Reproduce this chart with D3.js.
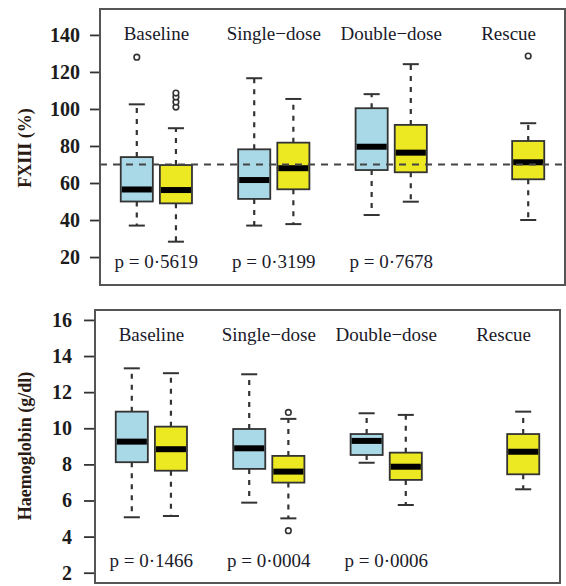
<!DOCTYPE html>
<html>
<head>
<meta charset="utf-8">
<script src="https://cdn.jsdelivr.net/npm/d3@7"></script>
<style>
  body { margin: 0; background: #fff; }
  text { font-family: "Liberation Serif", "DejaVu Serif", serif; }
</style>
</head>
<body>
<div id="chart"></div>
<script>
// group names and p-values
var groups = ["Baseline", "Single\u2212dose", "Double\u2212dose", "Rescue"];
var fxPValues = ["p = 0\u00b75619", "p = 0\u00b73199", "p = 0\u00b77678"];
var hbPValues = ["p = 0\u00b71466", "p = 0\u00b70004", "p = 0\u00b70006"];

// box stats per group: [lower whisker, q1, median, q3, upper whisker]
var fxBlue = [[37, 50, 56.5, 74, 102.5], [37, 51.4, 61.6, 78.2, 116.6], [42.7, 67, 79.6, 100.4, 108], null];
var fxYellow = [[28.3, 49, 56.2, 69.7, 89.6], [37.8, 56.6, 68, 81.8, 105.4], [49.9, 65.8, 76.4, 91.4, 124.2], [40, 62, 71.2, 82.7, 92.3]];
var fxBlueOut = [[128], [], [], []];
var fxYellowOut = [[101, 103.8, 106.5, 108.6], [], [], [128.6]];
var fxTicks = [20, 40, 60, 80, 100, 120, 140];
var fxRef = 70;

var hbBlue = [[5.07, 8.12, 9.26, 10.92, 13.32], [5.88, 7.75, 8.89, 9.96, 12.99], [8.09, 8.52, 9.3, 9.68, 10.83], null];
var hbYellow = [[5.14, 7.65, 8.84, 10.09, 13.05], [5.01, 6.99, 7.6, 8.47, 10.52], [5.75, 7.14, 7.87, 8.65, 10.74], [6.62, 7.45, 8.7, 9.68, 10.92]];
var hbBlueOut = [[], [], [], []];
var hbYellowOut = [[], [10.88, 4.33], [], []];
var hbTicks = [2, 4, 6, 8, 10, 12, 14, 16];

var W = 566, H = 586;
var blueFill = "#a9d9e6", yellowFill = "#ece822";

var svg = d3.select("#chart").append("svg")
  .attr("width", W).attr("height", H);

function panel(opt) {
  var x = d3.scaleLinear().domain([0.06, 11.94]).range([opt.left, opt.right]);
  var y = d3.scaleLinear().domain(opt.yDomain).range([opt.bottom, opt.top]);
  var g = svg.append("g");
  var bw = 0.82 * (x(1) - x(0));

  // y axis
  var ax = g.append("g")
    .attr("transform", "translate(" + opt.left + ",0)")
    .call(d3.axisLeft(y).tickValues(opt.ticks).tickSize(opt.tickLen).tickPadding(opt.tickPad));
  ax.select(".domain").remove();
  ax.selectAll("line").attr("stroke", "#333").attr("stroke-width", 1.8);
  ax.selectAll("text")
    .attr("font-size", "20px").attr("font-weight", "bold")
    .attr("fill", "#1c1c1c")
    .style("font-family", "'Liberation Serif', serif");

  // y title
  g.append("text")
    .attr("transform", "translate(" + opt.titleX + "," + opt.titleY + ") rotate(-90)")
    .attr("text-anchor", "middle")
    .attr("font-size", "18px").attr("font-weight", "bold")
    .attr("fill", "#2a1a14")
    .text(opt.title);

  // boxes
  function drawBox(s, pos, fill, outs) {
    var cx = x(pos);
    if (s) {
      var bg = g.append("g");
      // whiskers, dashed outward from the box
      [[s[1], s[0]], [s[3], s[4]]].forEach(function (w) {
        bg.append("line")
          .attr("x1", cx).attr("x2", cx)
          .attr("y1", y(w[0])).attr("y2", y(w[1]))
          .attr("stroke", "#333").attr("stroke-width", 2.2)
          .attr("stroke-dasharray", "5,6");
      });
      [s[0], s[4]].forEach(function (v) {
        bg.append("line")
          .attr("x1", cx - bw / 4).attr("x2", cx + bw / 4)
          .attr("y1", y(v)).attr("y2", y(v))
          .attr("stroke", "#333").attr("stroke-width", 2);
      });
      bg.append("rect")
        .attr("x", cx - bw / 2).attr("width", bw)
        .attr("y", y(s[3])).attr("height", y(s[1]) - y(s[3]))
        .attr("fill", fill).attr("stroke", "#333").attr("stroke-width", 1.8);
      bg.append("line")
        .attr("x1", cx - bw / 2 + 1).attr("x2", cx + bw / 2 - 1)
        .attr("y1", y(s[2])).attr("y2", y(s[2]))
        .attr("stroke", "#000").attr("stroke-width", 6);
    }
    outs.forEach(function (v) {
      g.append("circle")
        .attr("cx", cx).attr("cy", y(v)).attr("r", 2.8)
        .attr("fill", "#fff").attr("stroke", "#333").attr("stroke-width", 1.6);
    });
  }

  groups.forEach(function (name, i) {
    drawBox(opt.blue[i], 3 * i + 1, blueFill, opt.blueOut[i]);
    drawBox(opt.yellow[i], 3 * i + 2, yellowFill, opt.yellowOut[i]);
    g.append("text")
      .attr("x", x(3 * i + 1.5)).attr("y", opt.labelY)
      .attr("text-anchor", "middle").attr("font-size", "19px")
      .attr("fill", "#1a1a2a")
      .text(name);
  });

  // reference line, drawn over the boxes
  if (opt.ref != null) {
    g.append("line")
      .attr("x1", opt.left).attr("x2", opt.right)
      .attr("y1", y(opt.ref)).attr("y2", y(opt.ref))
      .attr("stroke", "#444").attr("stroke-width", 2)
      .attr("stroke-dasharray", "7,6");
  }

  opt.pValues.forEach(function (p, i) {
    g.append("text")
      .attr("x", x(3 * i + 1.5)).attr("y", opt.pY)
      .attr("text-anchor", "middle").attr("font-size", "19px")
      .attr("fill", "#1a1a2a")
      .text(p);
  });

  // frame
  g.append("rect")
    .attr("x", opt.left).attr("y", opt.top)
    .attr("width", opt.right - opt.left).attr("height", opt.bottom - opt.top)
    .attr("fill", "none").attr("stroke", "#555").attr("stroke-width", 2);
}

panel({
  left: 100, right: 565, top: 9, bottom: 285,
  yDomain: [4.9, 154], ticks: fxTicks, tickLen: 10, tickPad: 10,
  title: "FXIII (%)", titleX: 31, titleY: 148,
  ref: fxRef,
  blue: fxBlue, yellow: fxYellow, blueOut: fxBlueOut, yellowOut: fxYellowOut,
  labelY: 40, pY: 268, pValues: fxPValues
});

panel({
  left: 95, right: 560, top: 310, bottom: 583,
  yDomain: [1.43, 16.55], ticks: hbTicks, tickLen: 11, tickPad: 12,
  title: "Haemoglobin (g/dl)", titleX: 31, titleY: 446,
  ref: null,
  blue: hbBlue, yellow: hbYellow, blueOut: hbBlueOut, yellowOut: hbYellowOut,
  labelY: 341, pY: 567, pValues: hbPValues
});
</script>
</body>
</html>
